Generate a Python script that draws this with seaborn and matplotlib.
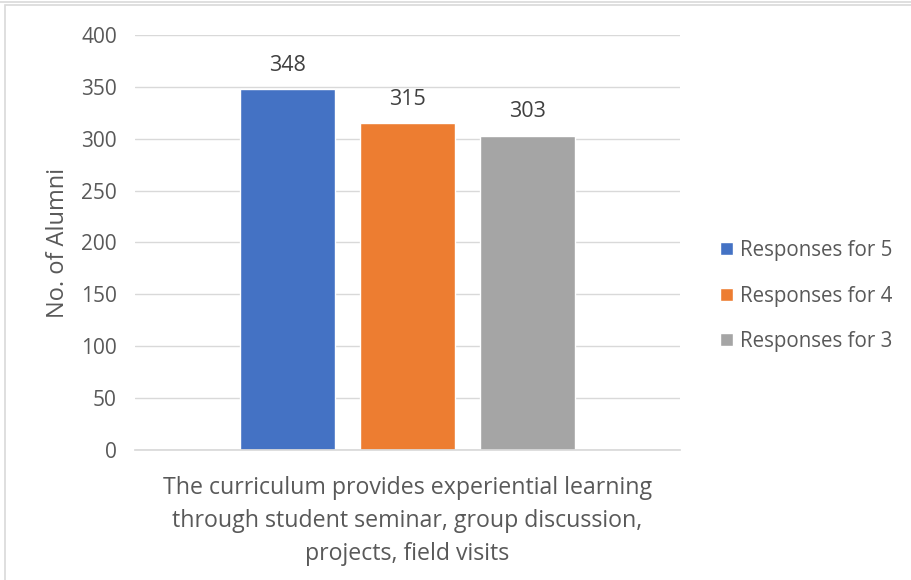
import matplotlib
matplotlib.use("Agg")
import matplotlib.pyplot as plt
import seaborn as sns
import pandas as pd
from matplotlib.patches import Rectangle

categories = ["The curriculum provides experiential learning\nthrough student seminar, group discussion,\nprojects, field visits"]
series = ["Responses for 5", "Responses for 4", "Responses for 3"]
values = [348, 315, 303]
colors = ["#4472C4", "#ED7D31", "#A5A5A5"]
yticks = [0, 50, 100, 150, 200, 250, 300, 350, 400]

sns.set_theme(style="white")
plt.rcParams['font.family'] = ['Open Sans', 'DejaVu Sans']
txt = "#595959"

df = pd.DataFrame({"cat": categories * len(series), "series": series, "val": values})

fig = plt.figure(figsize=(9.11, 5.80), dpi=100)
ax = fig.add_axes([135/911, 1 - 450/580, (680 - 135)/911, (450 - 35)/580])

sns.barplot(data=df, x="cat", y="val", hue="series", palette=colors,
            width=0.66, gap=0.21, ax=ax, saturation=1, legend=True)

ax.set_ylim(0, 400)
ax.set_xlim(-0.5, 0.5)
ax.set_yticks(yticks)
ax.yaxis.grid(True, color="#D9D9D9", linewidth=1)
ax.set_axisbelow(True)
for s in ["top", "right", "left"]:
    ax.spines[s].set_visible(False)
ax.spines["bottom"].set_color("#D9D9D9")
ax.tick_params(axis="y", length=0, labelsize=15, colors=txt, pad=13)
ax.tick_params(axis="x", length=0, labelsize=16.7, colors=txt, pad=19)
for lab in ax.get_xticklabels():
    lab.set_linespacing(1.49)
ax.set_xlabel("")
ax.set_ylabel("No. of Alumni", fontsize=17, color=txt, labelpad=8)

for cont in ax.containers:
    ax.bar_label(cont, padding=9.5, fontsize=15.5, color="#404040")

leg = ax.legend(loc="center left", bbox_to_anchor=(1.04, 0.371), frameon=False,
                fontsize=14.8, handlelength=0.6, handleheight=0.6,
                handletextpad=0.35, labelspacing=1.2)
for t in leg.get_texts():
    t.set_color(txt)

fig.patches.append(Rectangle((5/911, -0.01), 1.0, 1 - 5/580 + 0.01, transform=fig.transFigure,
                             fill=False, edgecolor="#D9D9D9", linewidth=1.2))
fig.patches.append(Rectangle((-0.01, 1 - 2/580), 1.02, 0.01, transform=fig.transFigure,
                             fill=False, edgecolor="#D9D9D9", linewidth=1.2))

fig.savefig("out.png", dpi=100)
